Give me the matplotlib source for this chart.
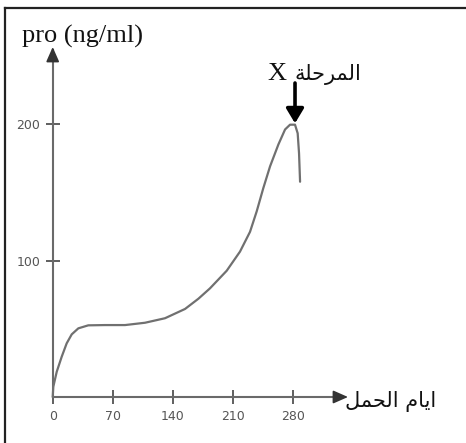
import matplotlib
matplotlib.use("Agg")
import matplotlib.pyplot as plt
from matplotlib.lines import Line2D

# ---- data ----
days = [0, 0.7, 4.7, 10.5, 16.3, 22.2, 29.9, 41.5, 61, 84.4, 107.7, 131, 154.4, 170,
        183.5, 203, 218.5, 230.2, 238, 245.7, 253.6, 263.3, 271.1, 276.9, 282.7, 285.8,
        287.4, 288.6]
values = [0, 7.5, 18.5, 29.5, 39.3, 45.9, 50.3, 52.5, 52.7, 52.7, 54.4, 57.7, 64.5, 72,
          79.6, 92.5, 106.5, 121, 136, 153, 169, 185, 196, 199.5, 199.5, 193.2,
          178.5, 157.7]
x_ticks = [0, 70, 140, 210, 280]
y_ticks = [100, 200]
y_label = "pro (ng/ml)"
x_label = "ايام الحمل"
stage_label = "المرحلة X"
stage_point = (282.7, 200.5)

# ---- minimal Arabic shaping (presentation forms + visual order) ----
FORMS = {  # isolated, final, initial, medial
    "\u0627": ("\uFE8D", "\uFE8E", None, None),
    "\u0631": ("\uFEAD", "\uFEAE", None, None),
    "\u0629": ("\uFE93", "\uFE94", None, None),
    "\u0644": ("\uFEDD", "\uFEDE", "\uFEDF", "\uFEE0"),
    "\u0645": ("\uFEE1", "\uFEE2", "\uFEE3", "\uFEE4"),
    "\u062D": ("\uFEA1", "\uFEA2", "\uFEA3", "\uFEA4"),
    "\u064A": ("\uFEF1", "\uFEF2", "\uFEF3", "\uFEF4"),
}

def dual(c):
    return c in FORMS and FORMS[c][2] is not None

def shape(s):
    out = []
    for i, c in enumerate(s):
        if c not in FORMS:
            out.append(c)
            continue
        prev = s[i - 1] if i > 0 else ""
        nxt = s[i + 1] if i + 1 < len(s) else ""
        jp = dual(prev)
        jn = dual(c) and nxt in FORMS
        iso, fin, ini, med = FORMS[c]
        if jp and jn:
            out.append(med)
        elif jp:
            out.append(fin)
        elif jn:
            out.append(ini)
        else:
            out.append(iso)
    return "".join(out)[::-1]

# ---- layout (pixel mapping) ----
W, H = 466, 443
x0, sx = 52.7, 60 / 70.0
y0, sy = 397.0, 273 / 200.0

fig = plt.figure(figsize=(W / 100, H / 100), dpi=100)
ax = fig.add_axes([0, 0, 1, 1])
ax.set_xlim(-x0 / sx, (W - x0) / sx)
ax.set_ylim(-(H - y0) / sy, y0 / sy)
ax.patch.set_alpha(0)

axis_col = "#6a6a6a"
for s in ["top", "right"]:
    ax.spines[s].set_visible(False)
ax.spines["left"].set_position(("data", 0))
ax.spines["bottom"].set_position(("data", 0))
y_top = (y0 - 50) / sy
x_end = (340 - x0) / sx
ax.spines["left"].set_bounds(0, y_top)
ax.spines["bottom"].set_bounds(0, x_end)
for s in ["left", "bottom"]:
    ax.spines[s].set_color(axis_col)
    ax.spines[s].set_linewidth(1.5)

ax.set_xticks(x_ticks)
ax.set_yticks(y_ticks)
ax.tick_params(axis="both", direction="inout", length=10, width=1.2, color="#444444",
               labelsize=9, labelcolor="#555555")
ax.tick_params(axis="x", pad=4)
ax.tick_params(axis="y", pad=4)

# axis arrow heads
ax.annotate("", xy=(0, (y0 - 47) / sy), xytext=(0, y_top - 2),
            arrowprops=dict(arrowstyle="-|>,head_length=0.5,head_width=0.22", color="#333333",
                            lw=1.2, mutation_scale=18, shrinkA=0, shrinkB=0))
ax.annotate("", xy=((348 - x0) / sx, 0), xytext=(x_end - 2, 0),
            arrowprops=dict(arrowstyle="-|>,head_length=0.5,head_width=0.22", color="#333333",
                            lw=1.2, mutation_scale=18, shrinkA=0, shrinkB=0))

# curve
ax.plot(days, values, color="#707070", lw=1.6, solid_joinstyle="round",
        solid_capstyle="round", zorder=3)

# stage arrow
ax.annotate("", xy=stage_point, xytext=(stage_point[0], (y0 - 83) / sy),
            arrowprops=dict(arrowstyle="-|>,head_length=0.4,head_width=0.24", color="black",
                            lw=2.6, mutation_scale=22, shrinkA=0, shrinkB=0), zorder=5)

# texts
ax.text((22 - x0) / sx, (y0 - 43) / sy, y_label, family=["Liberation Serif"], fontsize=19,
        ha="left", va="baseline", color="#111111")
stage_word, stage_letter = stage_label.split(" ")
ax.text((267 - x0) / sx, (y0 - 80) / sy, stage_letter,
        family=["Liberation Serif"], fontsize=19, ha="left",
        va="baseline", color="#111111")
ax.text((294 - x0) / sx, (y0 - 80) / sy, shape(stage_word),
        family=["DejaVu Sans"], fontsize=15, ha="left", va="baseline", color="#111111")
ax.text((345 - x0) / sx, (y0 - 402) / sy, shape(x_label),
        family=["DejaVu Sans"], fontsize=15, ha="left", va="center", color="#111111")

# outer frame (top and left edges)
fig.add_artist(Line2D([4.5 / W, 1.0], [1 - 8 / H, 1 - 8 / H], color="#222222", lw=1.6,
                      transform=fig.transFigure))
fig.add_artist(Line2D([4.5 / W, 4.5 / W], [0, 1 - 8 / H], color="#222222", lw=1.6,
                      transform=fig.transFigure))

fig.savefig("out.png", dpi=100)
